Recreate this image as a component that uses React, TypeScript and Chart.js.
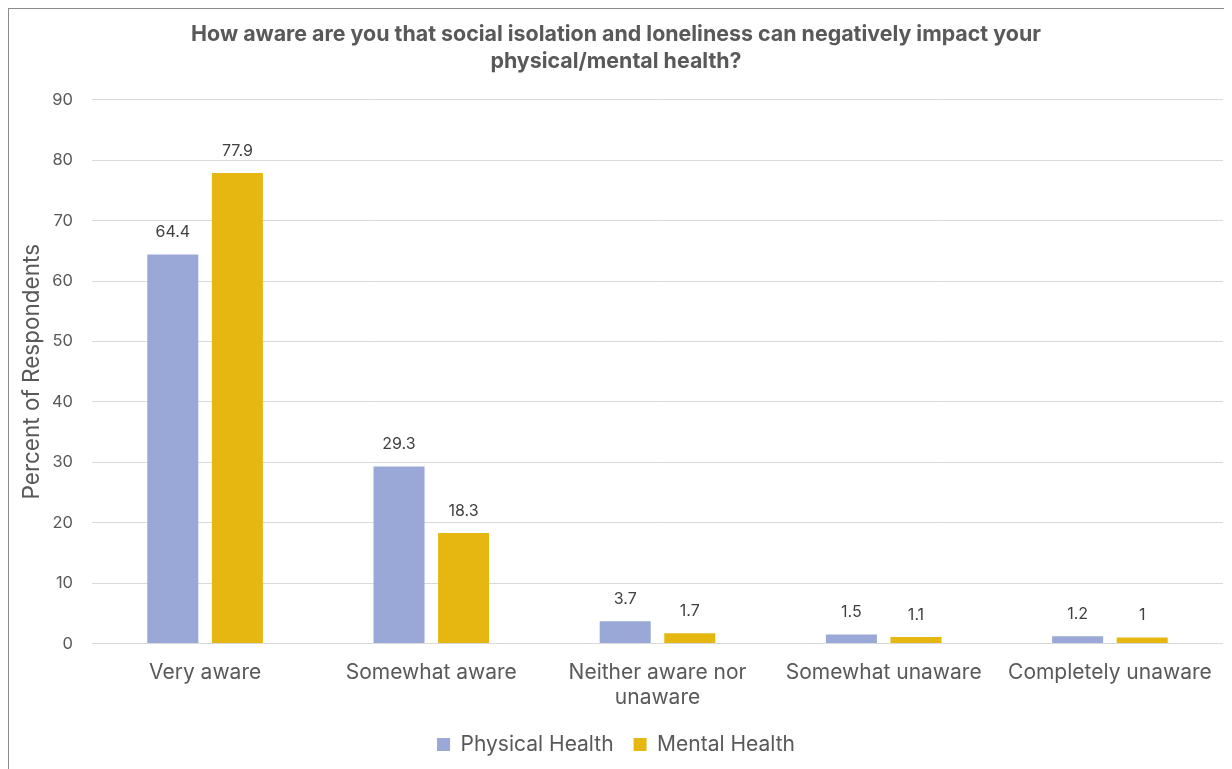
import React, { useEffect, useRef } from "react";
import { Chart, registerables } from "chart.js";

Chart.register(...registerables);

const categories: (string | string[])[] = [
  "Very aware",
  "Somewhat aware",
  ["Neither aware nor", "unaware"],
  "Somewhat unaware",
  "Completely unaware",
];
const physicalHealth = [64.4, 29.3, 3.7, 1.5, 1.2];
const mentalHealth = [77.9, 18.3, 1.7, 1.1, 1];
const titleLines = [
  "How aware are you that social isolation and loneliness can negatively impact your",
  "physical/mental health?",
];

const FONT = "Inter, 'Open Sans', 'DejaVu Sans', sans-serif";

const dataLabels = {
  id: "dataLabels",
  afterDatasetsDraw(chart: any) {
    const ctx = chart.ctx;
    ctx.save();
    ctx.font = `16px ${FONT}`;
    ctx.fillStyle = "#404040";
    ctx.textAlign = "center";
    ctx.textBaseline = "middle";
    chart.data.datasets.forEach((ds: any, i: number) => {
      const meta = chart.getDatasetMeta(i);
      meta.data.forEach((el: any, j: number) => {
        ctx.fillText(String(ds.data[j]), el.x, el.y - 22);
      });
    });
    ctx.restore();
  },
};

export default function App() {
  const ref = useRef<HTMLCanvasElement>(null);
  useEffect(() => {
    if (!ref.current) return;
    const chart = new Chart(ref.current, {
      type: "bar",
      data: {
        labels: categories,
        datasets: [
          {
            label: "Physical Health",
            data: physicalHealth,
            backgroundColor: "#99a8d6",
            categoryPercentage: 0.571,
            barPercentage: 0.79,
          },
          {
            label: "Mental Health",
            data: mentalHealth,
            backgroundColor: "#e6b711",
            categoryPercentage: 0.571,
            barPercentage: 0.79,
          },
        ],
      },
      options: {
        animation: false,
        responsive: false,
        maintainAspectRatio: false,
        layout: { padding: { left: 0, right: 9, top: 12, bottom: 4 } },
        plugins: {
          title: {
            display: true,
            text: titleLines,
            color: "#595959",
            font: { family: FONT, size: 21.4, weight: "bold", lineHeight: 1.27 },
            padding: { top: 0, bottom: 24.5 },
          },
          legend: {
            position: "bottom",
            labels: {
              color: "#595959",
              font: { family: FONT, size: 21 },
              boxWidth: 13,
              boxHeight: 13,
              padding: 20,
            },
          },
          tooltip: { enabled: false },
        },
        scales: {
          x: {
            grid: { display: false },
            border: { display: false },
            ticks: {
              color: "#595959",
              font: { family: FONT, size: 21 },
              padding: 8.5,
              maxRotation: 0,
              autoSkip: false,
            },
            afterFit: (scale: any) => {
              scale.height -= 5;
            },
          },
          y: {
            min: 0,
            max: 90,
            ticks: {
              stepSize: 10,
              color: "#595959",
              font: { family: FONT, size: 16.5 },
              padding: 19,
            },
            grid: { color: "#d9d9d9", drawTicks: false },
            border: { display: false },
            title: {
              display: true,
              text: "Percent of Respondents",
              color: "#595959",
              font: { family: FONT, size: 22.5 },
              padding: { top: 9.5, bottom: 0 },
            },
            afterFit: (scale: any) => {
              scale.width = 83;
            },
          },
        },
      },
      plugins: [dataLabels],
    });
    return () => chart.destroy();
  }, []);
  return (
    <div
      style={{
        width: 1224,
        height: 761,
        borderTop: "1px solid #8c8c8c",
        borderLeft: "1px solid #8c8c8c",
        boxSizing: "border-box",
        background: "#fff",
        overflow: "hidden",
      }}
    >
      <canvas ref={ref} width={1223} height={760} style={{ display: "block" }} />
    </div>
  );
}
